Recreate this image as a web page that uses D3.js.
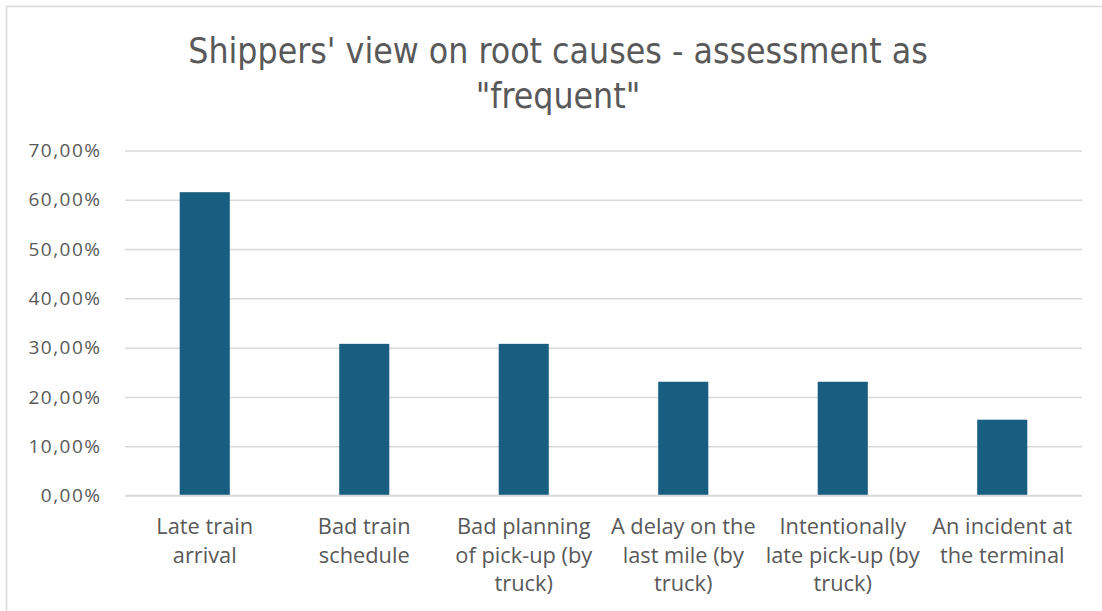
<!DOCTYPE html>
<html>
<head>
<meta charset="utf-8">
<script src="https://cdn.jsdelivr.net/npm/d3@7"></script>
<style>
  html, body { margin: 0; padding: 0; background: #fff; }
  svg { display: block; }
</style>
</head>
<body>
<svg id="chart" width="1102" height="611"></svg>
<script>
// Share of shippers rating each root cause as "frequent"
const categories = [
  ["Late train", "arrival"],
  ["Bad train", "schedule"],
  ["Bad planning", "of pick-up (by", "truck)"],
  ["A delay on the", "last mile (by", "truck)"],
  ["Intentionally", "late pick-up (by", "truck)"],
  ["An incident at", "the terminal"]
];
const values = [0.6154, 0.3077, 0.3077, 0.2308, 0.2308, 0.1538];
const yTicks = [0, 0.1, 0.2, 0.3, 0.4, 0.5, 0.6, 0.7];
const titleLines = ["Shippers' view on root causes - assessment as", "\"frequent\""];

const svg = d3.select("#chart");
const W = 1102, H = 611;
const margin = { left: 125, right: 20, top: 150.5, bottom: 115.5 };
const textColor = "#595959";
const gridColor = "#d9d9d9";
const barColor = "#175e80";

// chart frame
svg.append("rect")
  .attr("x", 6.5).attr("y", 6.5)
  .attr("width", W + 10).attr("height", H + 10)
  .attr("fill", "#fff")
  .attr("stroke", gridColor).attr("stroke-width", 1.5);

const x = d3.scaleBand()
  .domain(d3.range(categories.length))
  .range([margin.left, W - margin.right])
  .padding(0);

const y = d3.scaleLinear()
  .domain([0, 0.7])
  .range([H - margin.bottom, margin.top]);

const fmt = v => d3.format(".2f")(v * 100).replace(".", ",") + "%";

// gridlines and value labels
const yAxis = d3.axisLeft(y)
  .tickValues(yTicks)
  .tickFormat(fmt)
  .tickSize(-(W - margin.right - margin.left))
  .tickPadding(23.5);

const gy = svg.append("g")
  .attr("transform", `translate(${margin.left},0)`)
  .call(yAxis);
gy.select(".domain").remove();
gy.selectAll(".tick line")
  .attr("stroke", gridColor)
  .attr("stroke-width", 1.5);
gy.selectAll(".tick text")
  .attr("fill", textColor)
  .attr("font-family", "'Open Sans', 'Liberation Sans', sans-serif")
  .attr("font-size", 19)
  .attr("letter-spacing", 1.5);

// bars
const barW = x.bandwidth() * 0.314;
svg.append("g")
  .selectAll("rect")
  .data(values)
  .join("rect")
  .attr("x", (d, i) => x(i) + x.bandwidth() / 2 - barW / 2)
  .attr("y", d => y(d))
  .attr("width", barW)
  .attr("height", d => y(0) - y(d))
  .attr("fill", barColor);

// baseline
svg.append("line")
  .attr("x1", margin.left).attr("x2", W - margin.right)
  .attr("y1", y(0)).attr("y2", y(0))
  .attr("stroke", gridColor).attr("stroke-width", 1.5);

// category labels
const xAxis = d3.axisBottom(x).tickSize(0).tickFormat("");
const gx = svg.append("g")
  .attr("transform", `translate(0,${y(0)})`)
  .call(xAxis);
gx.select(".domain").remove();
gx.selectAll(".tick").each(function(i) {
  const t = d3.select(this).append("text")
    .attr("fill", textColor)
    .attr("text-anchor", "middle")
    .attr("font-family", "'Open Sans', 'Liberation Sans', sans-serif")
    .attr("font-size", 21.8);
  categories[i].forEach((line, k) => {
    t.append("tspan").attr("x", 0).attr("y", 38.5 + k * 28.7).text(line);
  });
});

// title
const title = svg.append("text")
  .attr("fill", textColor)
  .attr("text-anchor", "middle")
  .attr("font-family", "'Liberation Sans Narrow', 'DejaVu Sans Condensed', sans-serif")
  .attr("font-size", 35.3);
titleLines.forEach((line, k) => {
  title.append("tspan").attr("x", 558).attr("y", 62.5 + k * 45.5).text(line);
});
</script>
</body>
</html>
